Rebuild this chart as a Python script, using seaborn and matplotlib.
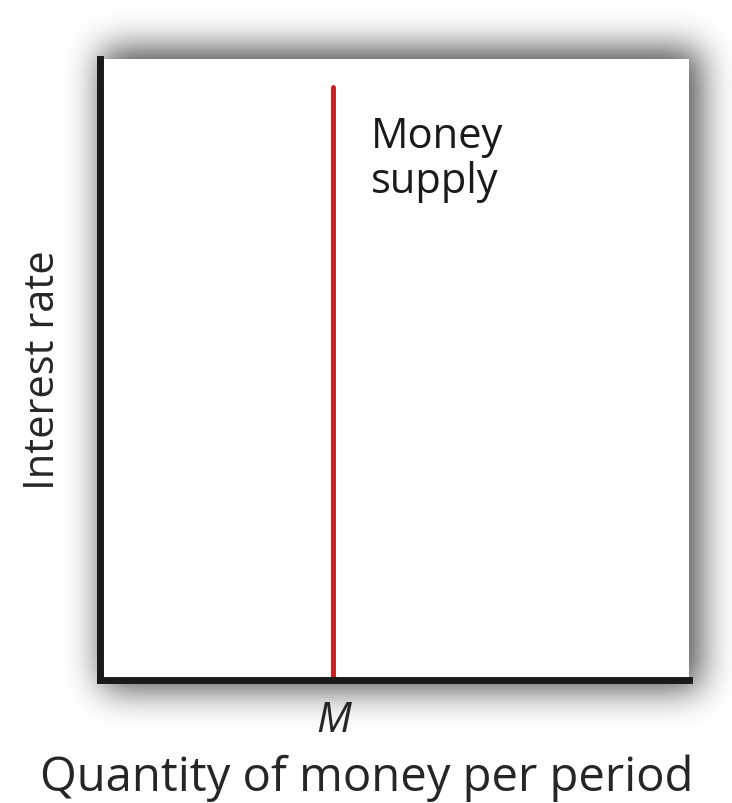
import matplotlib
matplotlib.use("Agg")
import matplotlib.pyplot as plt
import seaborn as sns
import pandas as pd
import numpy as np

# Money supply: vertical line at quantity M
supply_quantity = [0.396, 0.396]
supply_rate = [0.0, 0.955]
tick_positions = [0.396]
tick_labels = ["M"]

sns.set_theme(style="white")
plt.rcParams['font.family'] = ['Open Sans', 'DejaVu Sans']

W, H = 732, 804
fig = plt.figure(figsize=(W / 100, H / 100), dpi=100)

# blurred drop shadow behind the plot box
shadow = np.zeros((H, W))
shadow[50:690, 102:700] = 1.0
k = np.arange(-60, 61)
kern = np.exp(-0.5 * (k / 18.0) ** 2)
kern /= kern.sum()
shadow = np.apply_along_axis(lambda r: np.convolve(r, kern, mode="same"), 1, shadow)
shadow = np.apply_along_axis(lambda c: np.convolve(c, kern, mode="same"), 0, shadow)
rgba = np.zeros((H, W, 4))
rgba[..., 3] = shadow * 0.72
bg = fig.add_axes([0, 0, 1, 1], zorder=-1)
bg.imshow(rgba, extent=[0, W, H, 0], aspect="auto")
bg.set_xlim(0, W)
bg.set_ylim(H, 0)
bg.axis("off")

ax = fig.add_axes([100 / W, 1 - 681 / H, 589 / W, 621 / H])

df = pd.DataFrame({"quantity": supply_quantity, "rate": supply_rate})
sns.lineplot(data=df, x="quantity", y="rate", color="#c8201e", linewidth=3.5,
             ax=ax, sort=False, estimator=None)

ax.set_xlim(0, 1)
ax.set_ylim(0, 1)
ax.set_facecolor("white")
for side in ["top", "right"]:
    ax.spines[side].set_visible(False)
for side in ["left", "bottom"]:
    ax.spines[side].set_color("#1a1a1a")
    ax.spines[side].set_linewidth(5)

ax.set_xticks(tick_positions)
ax.set_xticklabels(tick_labels, fontsize=30, style="italic")
ax.tick_params(axis="x", length=0, pad=14)
ax.set_yticks([])

ax.set_xlabel("Quantity of money per period", fontsize=34)
ax.xaxis.set_label_coords(0.452, -0.118)
ax.set_ylabel("Interest rate", fontsize=30, labelpad=26)

ax.text(0.46, 0.84, "Money\nsupply", fontsize=30, va="center", ha="left",
        linespacing=1.1, color="#1a1a1a")

fig.savefig("out.png", dpi=100)
